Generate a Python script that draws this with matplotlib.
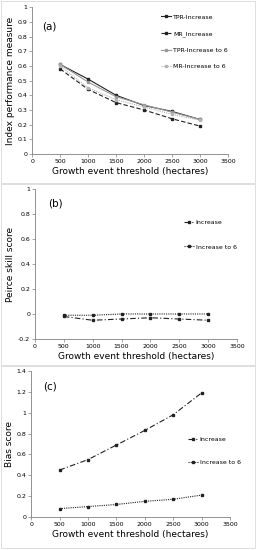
import numpy as np
import matplotlib
matplotlib.use('Agg')
import matplotlib.pyplot as plt
from matplotlib.patches import Rectangle

# Data
thresholds = [500, 1000, 1500, 2000, 2500, 3000]

# (a) index performance measure
tpr_inc = [0.61, 0.51, 0.40, 0.33, 0.29, 0.235]
mr_inc = [0.58, 0.44, 0.35, 0.30, 0.24, 0.19]
tpr_inc6 = [0.61, 0.49, 0.39, 0.335, 0.285, 0.235]
mr_inc6 = [0.60, 0.45, 0.37, 0.32, 0.27, 0.23]

# (b) Peirce skill score
pss_inc = [-0.02, -0.05, -0.04, -0.03, -0.04, -0.05]
pss_inc6 = [-0.01, -0.01, 0.0, 0.0, 0.0, 0.0]

# (c) Bias score
bias_inc = [0.45, 0.55, 0.69, 0.83, 0.98, 1.19]
bias_inc6 = [0.08, 0.10, 0.12, 0.15, 0.17, 0.21]

xlab = 'Growth event threshold (hectares)'

plt.rcParams['font.family'] = 'DejaVu Sans'
fig = plt.figure(figsize=(2.57, 5.5), dpi=100)

# light panel frames
for y0, h in [(0.667, 0.331), (0.337, 0.328), (0.003, 0.332)]:
	fig.patches.append(Rectangle((0.004, y0), 0.99, h, transform=fig.transFigure,
		fill=False, edgecolor='#d9d9d9', linewidth=0.6))

def style(ax, ylim, yticks, ylabel):
	ax.set_xlim(0, 3500)
	ax.set_xticks(np.arange(0, 3501, 500))
	ax.set_ylim(*ylim)
	ax.set_yticks(yticks)
	ax.set_yticklabels(['%g' % round(t, 2) for t in yticks])
	for s in ['top', 'right']:
		ax.spines[s].set_visible(False)
	for s in ['left', 'bottom']:
		ax.spines[s].set_color('#808080')
		ax.spines[s].set_linewidth(0.6)
	ax.tick_params(labelsize=4.5, length=2, width=0.5, color='#808080', pad=1.5)
	ax.set_xlabel(xlab, fontsize=6.5, labelpad=2)
	ax.set_ylabel(ylabel, fontsize=6.5, labelpad=2)

mk = dict(marker='s', markersize=1.6, linewidth=0.8)
leg = dict(loc='upper left', frameon=False, fontsize=4.5, handlelength=1.6, handletextpad=0.3)

# (a)
ax1 = fig.add_axes([0.125, 0.72, 0.762, 0.267])
ax1.plot(thresholds, tpr_inc, color='#222222', linestyle='-', label='TPR-Increase', **mk)
ax1.plot(thresholds, mr_inc, color='#222222', linestyle=(0, (4, 2)), label='MR_Increase', **mk)
ax1.plot(thresholds, tpr_inc6, color='#9a9a9a', linestyle='-', label='TPR-Increase to 6', **mk)
ax1.plot(thresholds, mr_inc6, color='#b5b5b5', linestyle=(0, (1, 1)), label='MR-Increase to 6', **mk)
style(ax1, (0, 1), np.arange(0, 1.01, 0.1), 'Index performance measure')
ax1.text(0.05, 0.85, '(a)', transform=ax1.transAxes, fontsize=7.5)
ax1.legend(bbox_to_anchor=(0.63, 0.99), labelspacing=1.75, **leg)

# (b)
ax2 = fig.add_axes([0.136, 0.3836, 0.786, 0.273])
ax2.plot(thresholds, pss_inc, color='#222222', linestyle=(0, (5, 2, 1, 2)), label='Increase', **mk)
ax2.plot(thresholds, pss_inc6, color='#222222', linestyle=(0, (1, 1)), label='Increase to 6', **mk)
style(ax2, (-0.2, 1), np.arange(-0.2, 1.01, 0.2), 'Peirce skill score')
ax2.text(0.065, 0.88, '(b)', transform=ax2.transAxes, fontsize=7.5)
ax2.legend(bbox_to_anchor=(0.71, 0.83), labelspacing=3.0, **leg)

# (c)
ax3 = fig.add_axes([0.121, 0.06, 0.774, 0.2655])
ax3.plot(thresholds, bias_inc, color='#222222', linestyle=(0, (5, 2, 1, 2)), label='Increase', **mk)
ax3.plot(thresholds, bias_inc6, color='#222222', linestyle=(0, (1, 1)), label='Increase to 6', **mk)
style(ax3, (0, 1.4), np.arange(0, 1.41, 0.2), 'Bias score')
ax3.text(0.06, 0.87, '(c)', transform=ax3.transAxes, fontsize=7.5)
ax3.legend(bbox_to_anchor=(0.76, 0.59), labelspacing=2.9, **leg)

fig.savefig('out.png', dpi=100)
